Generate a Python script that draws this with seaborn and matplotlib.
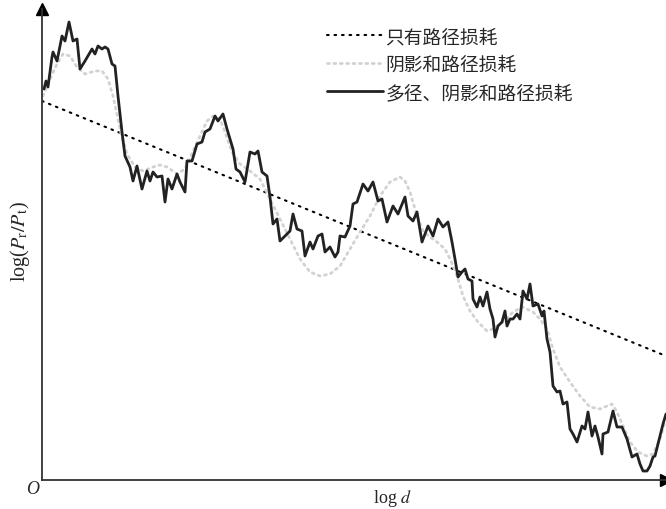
import numpy as np
import pandas as pd
import seaborn as sns
from matplotlib import pyplot as plt

# values, arbitrary units (log d from 0 to 624, level from 0 to 471)
pl_d = [0, 624]
pl_level = [379, 124]

shadow_d = [1, 8, 15, 21, 28, 35, 43, 53, 60, 66, 71, 76, 79, 85, 93, 101, 111, 118, 125, 135,
            143, 151, 158, 165, 171, 178, 183, 190, 198, 208, 218, 228, 238, 248, 258, 268, 278, 288, 298, 308,
            318, 328, 338, 348, 358, 363, 368, 375, 381, 388, 395, 403, 409, 415, 421, 428, 436, 445, 451, 461,
            471, 481, 491, 498, 505, 511, 518, 528, 538, 548, 558, 565, 570, 575, 581, 588, 596, 605, 611, 618,
            623]
shadow_level = [384, 401, 416, 426, 424, 413, 406, 409, 409, 401, 384, 361, 346, 326, 313, 309, 313, 315, 313, 306,
                311, 329, 344, 359, 364, 361, 348, 328, 316, 309, 301, 281, 261, 241, 221, 208, 204, 206, 214, 231,
                248, 264, 284, 298, 303, 299, 288, 264, 249, 243, 238, 231, 219, 204, 184, 169, 158, 149, 151, 158,
                168, 173, 168, 161, 151, 131, 113, 98, 84, 73, 71, 74, 76, 68, 54, 38, 28, 24, 26, 41,
                58]

multi_d = [2, 4, 6, 10, 11, 15, 20, 23, 27, 31, 35, 38, 43, 50, 53, 56, 60, 63, 66, 70,
           73, 75, 76, 80, 83, 88, 91, 95, 100, 105, 108, 111, 115, 120, 123, 126, 130, 135, 138, 143,
           145, 150, 155, 160, 163, 168, 173, 176, 181, 185, 188, 191, 194, 198, 203, 208, 213, 216, 220, 225,
           228, 231, 235, 238, 245, 248, 251, 255, 260, 263, 268, 271, 276, 280, 283, 288, 293, 296, 298, 303,
           308, 311, 315, 321, 326, 331, 336, 340, 345, 351, 356, 363, 366, 371, 375, 380, 383, 386, 391, 396,
           401, 406, 410, 413, 416, 420, 423, 426, 430, 431, 435, 438, 441, 445, 448, 451, 453, 456, 460, 463,
           465, 468, 471, 475, 478, 481, 485, 488, 491, 496, 500, 502, 505, 508, 511, 515, 518, 521, 525, 528,
           531, 535, 540, 543, 546, 550, 553, 556, 560, 561, 566, 571, 575, 580, 585, 590, 595, 598, 601, 605,
           608, 611, 613, 618, 621, 624]
multi_level = [391, 399, 393, 423, 428, 419, 444, 439, 458, 439, 441, 411, 419, 431, 426, 434, 431, 433, 431, 416,
               414, 394, 384, 348, 324, 313, 299, 314, 291, 309, 299, 308, 303, 304, 278, 301, 291, 306, 298, 288,
               319, 319, 336, 338, 348, 351, 364, 359, 366, 351, 341, 331, 311, 308, 298, 328, 326, 329, 308, 304,
               283, 256, 261, 239, 246, 249, 266, 251, 249, 224, 238, 231, 244, 246, 228, 233, 223, 228, 244, 243,
               254, 276, 278, 296, 289, 298, 279, 281, 258, 274, 266, 283, 264, 259, 268, 238, 246, 254, 244, 261,
               253, 258, 238, 221, 203, 208, 211, 201, 199, 181, 173, 183, 174, 188, 171, 161, 143, 154, 158, 169,
               154, 161, 161, 166, 161, 189, 181, 196, 174, 176, 164, 169, 141, 128, 94, 88, 89, 76, 78, 51,
               46, 38, 54, 51, 68, 44, 54, 43, 26, 46, 48, 69, 53, 53, 41, 23, 26, 16, 9, 9,
               14, 23, 24, 44, 56, 66]

labels = ['只有路径损耗', '阴影和路径损耗', '多径、阴影和路径损耗']

sns.set_theme(style='white')
plt.rcParams['font.family'] = ['Noto Sans CJK SC', 'DejaVu Sans']
plt.rcParams['mathtext.fontset'] = 'stix'

fig = plt.figure(figsize=(6.66, 5.10), dpi=100)
ax = fig.add_axes([42 / 666, 1 - 481 / 510, 624 / 666, 471 / 510])

sns.lineplot(x=pl_d, y=pl_level, ax=ax, color='black', lw=1.5,
             linestyle=(0, (0.8, 2.8)), label=labels[0], estimator=None)
sns.lineplot(x=shadow_d, y=shadow_level, ax=ax, color='#d2d2d2', lw=2.0,
             linestyle=(0, (0.7, 1.6)), label=labels[1], estimator=None)
sns.lineplot(x=multi_d, y=multi_level, ax=ax, color='#222222', lw=2.0,
             label=labels[2], estimator=None, sort=False)
for ln in ax.lines:
    ln.set_solid_joinstyle('round')
    ln.set_dash_capstyle('round')

ax.set_xlim(0, 624)
ax.set_ylim(0, 471)
ax.set_xticks([])
ax.set_yticks([])
sns.despine(ax=ax)
for s in ['left', 'bottom']:
    ax.spines[s].set_color('#333333')
    ax.spines[s].set_linewidth(1.3)

# axis arrow heads
ax.plot(1, 0, '>', color='black', ms=8, transform=ax.transAxes, clip_on=False)
ax.plot(0, 1, '^', color='black', ms=8, transform=ax.transAxes, clip_on=False)

fig.text(33 / 666, 1 - 490 / 510, 'O', family='Liberation Serif', style='italic',
         fontsize=13, ha='center', va='center')
fig.text(392 / 666, 1 - 499 / 510, r'log $\it{d}$', family='Liberation Serif',
         fontsize=13, ha='center', va='center')
fig.text(20 / 666, 1 - 242 / 510, r'log($P_{\rm r}/P_{\rm t}$)', family='Liberation Serif',
         fontsize=14.5, ha='center', va='center', rotation=90)

ax.legend(loc='upper left', bbox_to_anchor=(0.457, 0.964), frameon=False,
          fontsize=13.5, handlelength=3.0, handletextpad=0.1, labelspacing=0.37,
          borderpad=0, borderaxespad=0)

fig.savefig('out.png', dpi=100)
